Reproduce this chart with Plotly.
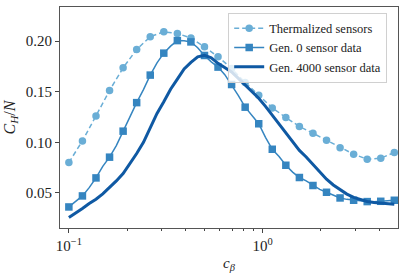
import plotly.graph_objects as go

# c_beta grid (data points); markers are drawn on every other point
c_beta = [0.1, 0.10839, 0.11749, 0.12735, 0.13804, 0.14962, 0.16218, 0.17579,
          0.19055, 0.20654, 0.22387, 0.24266, 0.26303, 0.28510, 0.30903, 0.33497,
          0.36308, 0.39355, 0.42658, 0.46238, 0.50119, 0.54325, 0.58884, 0.63826,
          0.69183, 0.74989, 0.81283, 0.88105, 0.95499, 1.03514, 1.12202, 1.21619,
          1.31826, 1.42889, 1.54882, 1.67880, 1.81970, 1.97242, 2.13796, 2.31739,
          2.51189, 2.72270, 2.95121, 3.19890, 3.46737, 3.75837, 4.07380, 4.41570,
          4.78630]

c_beta_thermal = c_beta[::2]
thermalized = [0.080, 0.1014, 0.1261, 0.1512, 0.1736, 0.1918, 0.2043, 0.2092,
               0.2076, 0.2030, 0.1944, 0.1845, 0.1730, 0.1590, 0.1466, 0.1340,
               0.1245, 0.1156, 0.1090, 0.1021, 0.0945, 0.0882, 0.0833, 0.0843,
               0.0899]

gen0 = [0.0361, 0.0418, 0.0470, 0.0552, 0.0648, 0.0762, 0.0853, 0.0968,
        0.1110, 0.1262, 0.1392, 0.1520, 0.1664, 0.1785, 0.1881, 0.1950,
        0.2005, 0.2004, 0.1992, 0.1935, 0.1858, 0.1795, 0.1743, 0.1668,
        0.1571, 0.1462, 0.1347, 0.1268, 0.1183, 0.1049, 0.0931, 0.0860,
        0.0773, 0.0705, 0.0652, 0.0618, 0.0573, 0.0535, 0.0506, 0.0481,
        0.0450, 0.0436, 0.0427, 0.0422, 0.0414, 0.0413, 0.0417, 0.0421,
        0.0427]

gen4000 = [0.0256, 0.0298, 0.0345, 0.0394, 0.0437, 0.0490, 0.0553, 0.0618,
           0.0691, 0.0786, 0.0889, 0.1000, 0.1140, 0.1285, 0.1400, 0.1525,
           0.1625, 0.1725, 0.1790, 0.1845, 0.1860, 0.1835, 0.1780, 0.1742,
           0.1696, 0.1632, 0.1565, 0.1498, 0.1435, 0.1355, 0.1270, 0.1178,
           0.1100, 0.1015, 0.0920, 0.0855, 0.0780, 0.0705, 0.0635, 0.0578,
           0.0530, 0.0488, 0.0455, 0.0432, 0.0415, 0.0404, 0.0397, 0.0391,
           0.0388]

labels = ["Thermalized sensors", "Gen. 0 sensor data", "Gen. 4000 sensor data"]
x_tickvals = [0.1, 1]
x_ticktext = ["10<sup>\u22121</sup>", "10<sup>0</sup>"]
y_tickvals = [0.05, 0.10, 0.15, 0.20]
y_ticktext = ["0.05", "0.10", "0.15", "0.20"]

c_th = "#6aaed6"
c_g0 = "#3585c0"
c_g4 = "#0f59a3"
FONT = "Liberation Serif, DejaVu Serif, serif"

fig = go.Figure()

# Thermalized
fig.add_trace(go.Scatter(x=c_beta_thermal, y=thermalized, mode="lines+markers",
                         line=dict(color=c_th, width=1.5, dash="5px,3px"),
                         marker=dict(symbol="circle", size=7.5, color=c_th),
                         name=labels[0], showlegend=True))
# Gen 0 line + markers every other point
fig.add_trace(go.Scatter(x=c_beta, y=gen0, mode="lines",
                         line=dict(color=c_g0, width=1.5), showlegend=False,
                         legendgroup="g0"))
fig.add_trace(go.Scatter(x=c_beta[::2], y=gen0[::2], mode="markers",
                         marker=dict(symbol="square", size=7.5, color=c_g0),
                         showlegend=False, legendgroup="g0"))
fig.add_trace(go.Scatter(x=[None], y=[None], mode="lines+markers",
                         line=dict(color=c_g0, width=1.5),
                         marker=dict(symbol="square", size=7.5, color=c_g0),
                         name=labels[1], legendgroup="g0"))
# Gen 4000
fig.add_trace(go.Scatter(x=c_beta, y=gen4000, mode="lines",
                         line=dict(color=c_g4, width=3),
                         name=labels[2]))

fig.update_layout(
    width=406, height=273,
    margin=dict(l=60, r=8, t=7, b=45),
    paper_bgcolor="white", plot_bgcolor="white",
    font=dict(family=FONT, size=12, color="#222"),
    legend=dict(x=0.968, y=0.975, xanchor="right", yanchor="top",
                bgcolor="rgba(255,255,255,0.8)", bordercolor="#d0d0d0",
                borderwidth=1, font=dict(family=FONT, size=12.5, color="#222"),
                itemwidth=30, tracegroupgap=0),
    showlegend=True,
)
fig.update_xaxes(type="log", range=[-1.0458, 0.699], automargin=False,
                 tickvals=x_tickvals, ticktext=x_ticktext,
                 ticks="outside", ticklen=4, tickcolor="#444",
                 minor=dict(ticks="outside", ticklen=2, tickcolor="#444",
                            tickvals=[0.2, 0.3, 0.4, 0.5, 0.6, 0.7, 0.8, 0.9, 2, 3, 4],
                            showgrid=False),
                 showline=True, linecolor="#555", linewidth=1, mirror=True,
                 showgrid=False, zeroline=False,
                 tickfont=dict(family=FONT, size=15),
                 title=dict(text="<i>c</i><sub><i>\u03b2</i></sub>",
                            font=dict(family=FONT, size=15), standoff=4))
fig.update_yaxes(range=[0.0153, 0.2337], automargin=False,
                 tickvals=y_tickvals, ticktext=y_ticktext,
                 ticks="outside", ticklen=4, tickcolor="#444",
                 showline=True, linecolor="#555", linewidth=1, mirror=True,
                 showgrid=False, zeroline=False,
                 tickfont=dict(family=FONT, size=15),
                 title=dict(text="<i>C</i><sub><i>H</i></sub>/<i>N</i>",
                            font=dict(family=FONT, size=16), standoff=6))

fig.write_html("out.html", config={"displayModeBar": False},
               post_script="document.body.style.margin='0';document.body.style.overflow='hidden';")
